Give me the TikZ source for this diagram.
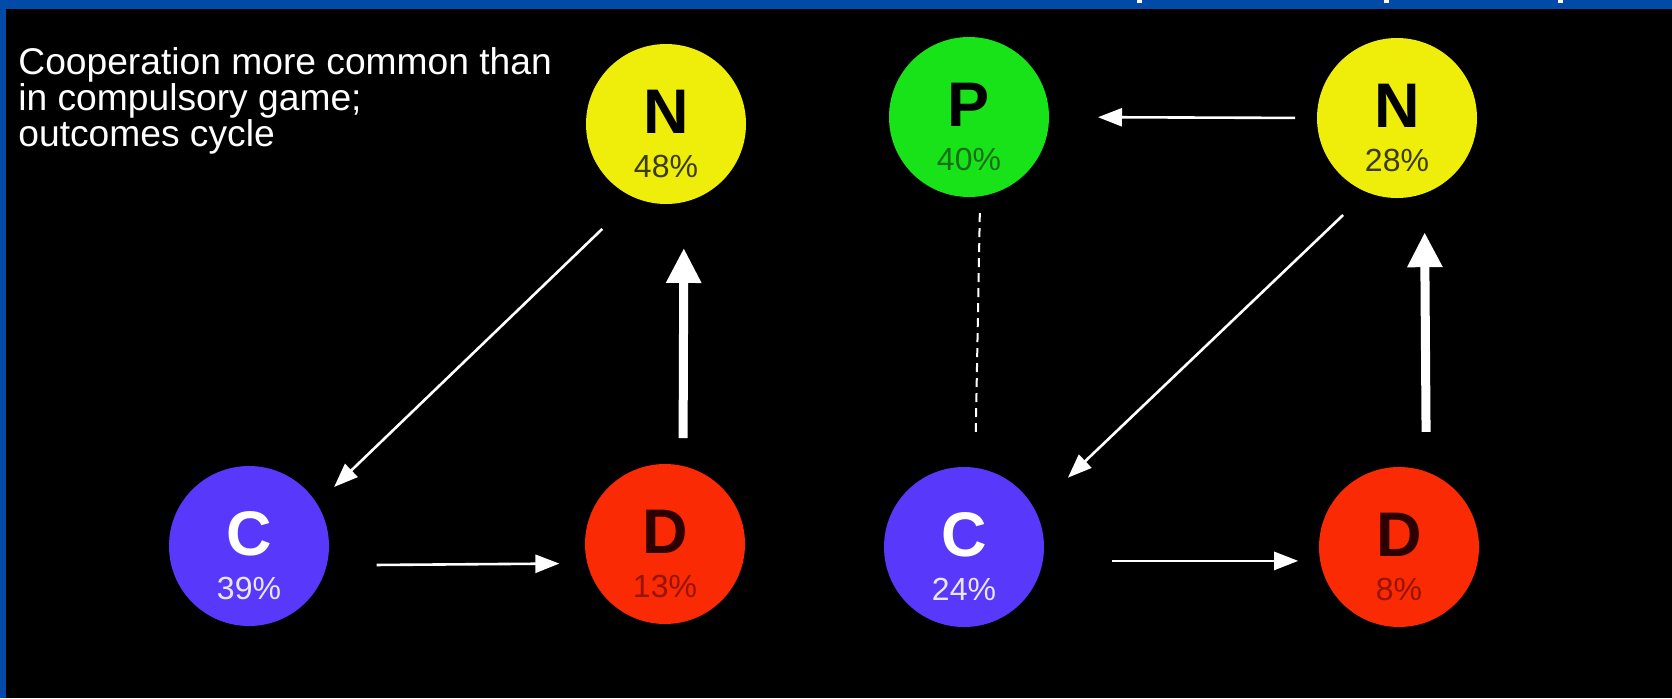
\documentclass[tikz,border=0pt]{standalone}
\usepackage{fontspec}
\setmainfont{Liberation Sans}
\usetikzlibrary{arrows.meta}

\definecolor{slideblue}{RGB}{2,74,168}
\definecolor{nyellow}{RGB}{238,238,10}
\definecolor{pgreen}{RGB}{24,226,24}
\definecolor{cblue}{RGB}{88,56,250}
\definecolor{dred}{RGB}{250,42,4}
\definecolor{nyellowtxt}{RGB}{60,60,0}
\definecolor{pgreentxt}{RGB}{25,110,25}
\definecolor{cbluetxt}{RGB}{235,230,255}
\definecolor{dredltr}{RGB}{45,0,0}
\definecolor{dredtxt}{RGB}{150,20,0}

\begin{document}
\begin{tikzpicture}[x=0.5pt,y=-0.5pt,
    state/.style={circle, minimum size=80pt, inner sep=0pt, outer sep=0pt},
    ltrtext/.style={inner sep=0pt, font=\fontsize{31.5pt}{31.5pt}\selectfont\bfseries},
    pcttext/.style={inner sep=0pt, font=\fontsize{16pt}{16pt}\selectfont},
    thinarrow/.style={white, line width=1.3pt, -{Triangle[length=12pt,width=9pt]}},
    thickarrow/.style={white, line width=4.5pt, -{Triangle[length=17.5pt,width=16.5pt]}},
    dashline/.style={white, line width=1pt, dash pattern=on 4.5pt off 3pt}]
  % slide background and frame
  \useasboundingbox (0,0) rectangle (1672,698);
  \fill[black] (0,0) rectangle (1672,698);
  \fill[slideblue] (0,0) rectangle (1672,9);
  \fill[slideblue] (0,0) rectangle (6,698);
  \fill[white] (1137,0) rectangle (1142,3);
  \fill[white] (1384,0) rectangle (1389,3);
  \fill[white] (1558,0) rectangle (1563,3);
  % caption
  \node[anchor=north west, inner sep=0pt, align=left, text=white,
        font={\fontsize{18.6pt}{18pt}\selectfont\setlength{\lineskiplimit}{-20pt}}] (caption) at (18,47)
    {Cooperation more common than\\in compulsory game;\\outcomes cycle};
  % strategy circles: name/x/y/fill/letter colour/percent colour/letter/percent
  \foreach \nm/\x/\y/\col/\lc/\pc/\ltr/\pct in {
        N1/666/124/nyellow/black/nyellowtxt/N/48,
        C1/249/546/cblue/white/cbluetxt/C/39,
        D1/665/544/dred/dredltr/dredtxt/D/13,
        P/969/117/pgreen/black/pgreentxt/P/40,
        N2/1397/118/nyellow/black/nyellowtxt/N/28,
        C2/964/547/cblue/white/cbluetxt/C/24,
        D2/1399/547/dred/dredltr/dredtxt/D/8} {
      \node[state, fill=\col] (\nm) at (\x,\y) {};
      \node[ltrtext, text=\lc, anchor=base] (\nm-l) at ([shift={(0,9)}]\nm.center) {\ltr};
      \node[pcttext, text=\pc, anchor=base] (\nm-p) at ([shift={(0,53)}]\nm.center) {\pct\%};
  }
  % voluntary game without punishment
  \draw[thinarrow, shorten <=22.5pt, shorten >=12pt] (N1.247) -- (C1.32);
  \draw[thinarrow, shorten <=25pt, shorten >=14pt] (C1.-14) -- (D1.194);
  \draw[thickarrow, shorten <=14pt, shorten >=23pt] (D1.77) -- (N1.283);
  % with punishment
  \draw[thinarrow, shorten <=11pt, shorten >=24.5pt] (N2.180) -- (P.0);
  \draw[dashline, shorten <=8.5pt, shorten >=18pt] (P.-82) -- (C2.82);
  \draw[thinarrow, shorten <=16.5pt, shorten >=23pt] (N2.248) -- (C2.28);
  \draw[thinarrow, shorten <=34.5pt, shorten >=11pt] (C2.-10) -- (D2.190);
  \draw[thickarrow, shorten <=20pt, shorten >=19.5pt] (D2.70) -- (N2.290);
\end{tikzpicture}
\end{document}
